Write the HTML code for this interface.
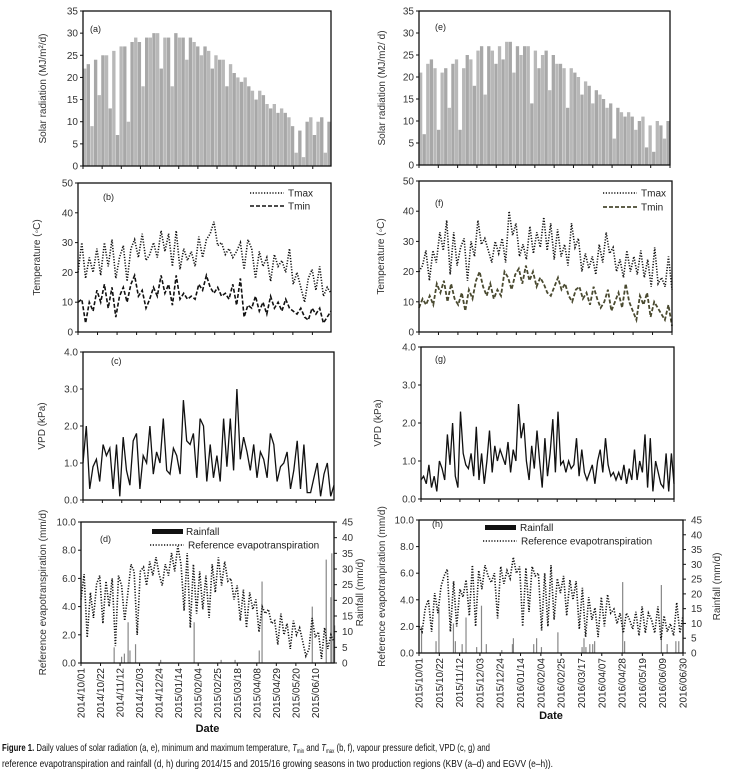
<!DOCTYPE html>
<html><head><meta charset="utf-8"><style>
html,body{margin:0;padding:0;background:#fff;}
svg{display:block;font-family:"Liberation Sans",sans-serif;}
</style></head><body>
<svg id="chart" width="742" height="778" viewBox="0 0 742 778" xmlns="http://www.w3.org/2000/svg">
<text x="2" y="751" font-size="10.5" fill="#111" textLength="488" lengthAdjust="spacingAndGlyphs"><tspan font-weight="bold">Figure 1.</tspan> Daily values of solar radiation (a, e), minimum and maximum temperature, <tspan font-style="italic">T</tspan><tspan font-size="6" dy="2">min</tspan><tspan dy="-2"> and </tspan><tspan font-style="italic">T</tspan><tspan font-size="6" dy="2">max</tspan><tspan dy="-2"> (b, f), vapour pressure deficit, VPD (c, g) and</tspan></text>
<text x="2" y="767" font-size="10.5" fill="#111" textLength="551" lengthAdjust="spacingAndGlyphs">reference evapotranspiration and rainfall (d, h) during 2014/15 and 2015/16 growing seasons in two production regions (KBV (a–d) and EGVV (e–h)).</text>
</svg>
<script>
// ---- data ----
const datesLeft = ["2014/10/01","2014/10/22","2014/11/12","2014/12/03","2014/12/24","2015/01/14","2015/02/04","2015/02/25","2015/03/18","2015/04/08","2015/04/29","2015/05/20","2015/06/10"];
const datesRight = ["2015/10/01","2015/10/22","2015/11/12","2015/12/03","2015/12/24","2016/01/14","2016/02/04","2016/02/25","2016/03/17","2016/04/07","2016/04/28","2016/05/19","2016/06/09","2016/06/30"];
const solarA = [22,23,9,24,16,25,25,13,26,7,27,27,10,28,29,28,18,29,29,30,30,22,29,29,18,30,29,29,24,29,28,27,25,27,26,22,25,24,24,18,23,21,20,19,20,18,17,15,17,16,14,13,14,12,13,12,11,9,3,8,2,10,11,7,10,11,3,10];
const tmaxB = [20,30,18,25,20,28,19,30,22,31,18,25,29,17,28,31,25,33,24,26,30,25,34,27,33,22,34,21,28,24,27,22,32,25,31,33,37,29,30,26,28,25,27,30,21,31,28,18,27,22,25,17,26,22,24,20,28,16,20,15,10,18,21,14,22,12,15,13];
const tminB = [10,11,3,10,7,14,10,16,8,15,5,12,15,10,16,19,12,14,8,11,15,12,19,13,16,9,19,11,13,11,12,11,16,14,19,15,13,15,12,13,11,16,9,18,5,9,8,12,7,10,6,12,8,10,7,11,8,7,6,8,5,4,8,6,8,3,5,7];
const vpdC = [1.0,2.0,0.3,0.9,1.1,0.5,1.5,1.2,1.4,0.3,1.5,0.1,1.7,0.8,0.4,1.6,1.8,0.3,1.2,1.0,2.0,0.7,1.3,1.0,2.2,0.8,0.7,1.4,1.2,0.7,2.7,1.6,1.5,1.8,0.6,2.2,2.0,0.5,1.5,0.6,1.2,0.5,2.2,0.9,2.2,0.8,3.0,1.1,1.7,1.3,0.8,1.5,0.6,1.3,1.1,0.6,1.8,1.5,0.5,0.9,1.0,1.3,0.3,0.8,1.6,0.3,1.5,0.2,0.2,0.6,1.0,0.1,0.7,1.0,0.1,0.4];
const etoD = [4.5,6.3,1.8,5.0,3.2,5.6,6.2,2.8,5.8,4.0,6.0,1.2,6.2,5.5,3.0,5.0,7.0,6.5,2.0,6.5,6.8,5.5,7.2,6.2,7.5,6.3,5.5,7.0,6.2,7.8,6.5,8.3,7.0,3.7,7.8,2.5,7.0,3.5,6.5,3.8,6.2,3.2,7.0,5.0,7.5,5.5,7.2,5.8,6.0,4.5,5.5,3.0,5.2,2.5,5.0,3.8,4.5,2.2,4.0,3.5,3.8,2.8,3.0,1.3,3.5,2.0,2.8,1.0,3.0,2.0,2.5,1.5,0.5,1.0,3.2,1.8,2.2,0.3,2.5,1.0,2.0,1.5];
const rainDayD = [35,43,46,50,52,58,85,121,150,165,191,194,248,263,268,269,272];
const rainMmD = [5,2,3,13,4,6,1,13,1,1,4,26,18,33,21,35,12];
const solarE = [21,7,23,24,22,8,21,22,13,23,24,8,22,25,24,18,26,27,16,27,26,23,27,24,28,28,21,27,25,27,27,14,26,22,25,26,17,25,23,23,22,13,22,21,20,16,19,18,14,17,16,15,13,14,6,13,12,11,12,11,8,10,11,4,9,3,10,9,6,10];
const tmaxF = [20,22,27,17,27,23,33,27,37,19,33,22,28,31,17,30,25,37,29,31,27,23,30,26,31,23,40,32,36,25,29,24,35,26,33,28,38,27,36,24,34,25,29,22,36,28,31,20,26,21,25,19,29,23,33,26,28,20,24,18,27,20,25,19,27,18,24,15,28,16,18,15,25,14];
const tminF = [8,11,9,12,9,16,13,17,10,16,11,9,13,7,14,11,17,20,15,12,16,11,14,12,20,18,14,19,21,16,22,17,20,15,18,16,13,12,15,18,14,16,12,10,14,15,11,13,9,15,11,8,10,14,7,10,13,8,16,10,7,4,12,9,13,5,10,8,6,4,9,2];
const vpdG = [0.5,0.6,0.4,0.9,0.3,0.6,0.2,1.0,0.8,0.5,1.7,0.9,2.0,0.6,0.3,2.3,1.2,0.9,0.8,1.2,0.6,1.9,0.5,1.2,0.4,1.0,1.8,0.7,1.4,1.0,1.3,1.1,0.9,1.5,0.7,1.3,1.0,2.5,1.6,2.0,1.0,0.5,1.4,0.8,1.8,1.0,0.3,1.6,0.6,1.2,2.1,0.7,2.3,0.9,1.0,0.7,1.0,0.8,0.9,1.6,0.6,1.3,0.7,0.5,0.7,0.9,0.4,1.0,1.3,0.7,1.6,0.9,0.6,0.7,0.5,0.7,0.5,0.9,0.4,0.8,0.5,1.3,0.5,1.0,0.7,1.7,0.3,1.6,0.2,1.0,0.7,0.4,0.3,1.2,0.2,1.2,0.4];
const etoH = [2.0,1.6,3.4,4.0,1.6,4.5,3.0,5.0,5.8,6.3,1.6,5.4,2.0,4.8,4.2,5.5,2.8,6.6,2.0,6.2,4.8,6.6,5.8,5.3,6.0,2.6,6.5,5.2,6.2,5.6,7.2,6.0,6.5,2.0,6.4,3.1,6.5,5.8,6.0,1.7,6.0,2.0,6.6,2.5,5.6,4.5,5.8,2.8,5.5,4.0,5.4,1.8,4.9,1.2,4.2,2.5,3.4,1.2,4.2,2.0,4.4,3.0,3.3,2.2,3.0,1.5,3.0,2.5,1.8,3.1,1.3,3.5,1.5,3.0,2.5,1.5,3.5,1.0,2.8,1.6,2.2,1.3,3.8,1.5,2.8];
const rainDayH = [2,17,20,35,37,44,48,59,64,69,85,96,97,118,121,126,143,168,170,172,176,179,181,210,212,250,256,265,268];
const rainMmH = [9,4,15,10,4,3,12,2,16,3,1,3,5,3,5,2,7,2,5,2,3,3,4,24,4,23,3,4,4];

// ---- drawing ----
const NS = "http://www.w3.org/2000/svg";
const svg = document.getElementById('chart');
function el(tag, attrs, parent){
  const e = document.createElementNS(NS, tag);
  for (const k in attrs) e.setAttribute(k, attrs[k]);
  (parent || svg).appendChild(e);
  return e;
}
function txt(s, attrs, parent){ const t = el('text', attrs, parent); t.textContent = s; return t; }

function panel(p){
  const g = el('g', {});
  
  
  p.sx = d => p.x0 + d / p.days * (p.x1 - p.x0);
  p.sy = v => p.y1 - v / p.ymax * (p.y1 - p.y0);
  p.g = g;
  return p;
}
function frame(p){
  const r = el('rect', {x:p.x0, y:p.y0, width:p.x1-p.x0, height:p.y1-p.y0, fill:'none', stroke:'#111', 'stroke-width':1.3}, p.g);
  
  
  for (let v = 0; v <= p.ymax + 1e-9; v += p.step){
    const y = p.sy(v);
    const tk = el('line', {x1:p.x0-3, x2:p.x0, y1:y, y2:y, stroke:'#111', 'stroke-width':1}, p.g);
    
    
    const lb = txt(v.toFixed(p.dec), {x:p.x0-5, y:y+3.5, 'font-size':10, fill:'#333', 'text-anchor':'end'}, p.g);
    
    
  }
  for (let i = 0; i < p.nt; i++){
    const x = p.sx(i*21);
    const tk = el('line', {x1:x, x2:x, y1:p.y1, y2:p.y1+3, stroke:'#111', 'stroke-width':1}, p.g);
    
    
  }
  const yt = txt(p.ytitle, {x:0, y:0, 'font-size':10, fill:'#333', 'text-anchor':'middle', transform:`translate(${p.tx},${(p.y0+p.y1)/2}) rotate(-90)`}, p.g);
  
  
  const pl = txt(p.label, {x:p.lx, y:p.ly, 'font-size':9, fill:'#222'}, p.g);
  
  
}
function bars(p, vals){
  const n = vals.length, w = (p.x1 - p.x0) / n;
  vals.forEach((v, i) => {
    const y = p.sy(v);
    const b = el('rect', {x:p.x0 + i*w, y:y, width:w*0.92, height:p.y1-y, fill:(i%2?'#a8a8a8':'#b8b8b8')}, p.g);
    
    
  });
}
function line(p, vals, style, name){
  const n = vals.length;
  const pts = vals.map((v, i) => p.sx(i * p.days / (n - 1)).toFixed(1) + ',' + p.sy(v).toFixed(1)).join(' ');
  const l = el('polyline', Object.assign({points:pts, fill:'none'}, style), p.g);
  
  
}
function rain(p, days, mm, rmax){
  days.forEach((d, i) => {
    const x = p.sx(d), y = p.y1 - mm[i] / rmax * (p.y1 - p.y0);
    const b = el('rect', {x:x, y:y, width:1.2, height:p.y1-y, fill:'#888'}, p.g);
    
    
  });
}
function rainAxis(p, rmax, tx){
  for (let v = 0; v <= rmax; v += 5){
    const y = p.y1 - v / rmax * (p.y1 - p.y0);
    const tk = el('line', {x1:p.x1, x2:p.x1+3, y1:y, y2:y, stroke:'#111'}, p.g);
    
    
    const lb = txt(String(v), {x:p.x1+8, y:y+3.5, 'font-size':10, fill:'#333'}, p.g);
    
    
  }
  const t = txt('Rainfall (mm/d)', {x:0, y:0, 'font-size':10, fill:'#333', 'text-anchor':'middle', transform:`translate(${tx},${(p.y0+p.y1)/2}) rotate(-90)`}, p.g);
  
  
}
function dateLabels(p, labels, dateY){
  labels.forEach((s, i) => {
    const x = p.sx(i*21);
    const t = txt(s, {x:0, y:0, 'font-size':10, fill:'#222', 'text-anchor':'end', transform:`translate(${x+3.5},${p.y1+5}) rotate(-90)`}, p.g);
    
    
  });
  const d = txt('Date', {x:(p.x0+p.x1)/2, y:dateY, 'font-size':11, 'font-weight':'bold', fill:'#111', 'text-anchor':'middle'}, p.g);
  
  
}
function legendLine(p, x, y, style, label, name){
  const l = el('line', Object.assign({x1:x, x2:x+34, y1:y, y2:y}, style), p.g);
  
  
  const t = txt(label, {x:x+38, y:y+3.5, 'font-size':10, fill:'#222'}, p.g);
  
  
}

const dotted = {stroke:'#111', 'stroke-width':1.6, 'stroke-dasharray':'1.2,1.6'};
const dashedK = {stroke:'#111', 'stroke-width':1.6, 'stroke-dasharray':'4,2'};
const dashedO = {stroke:'#4a4a30', 'stroke-width':1.8, 'stroke-dasharray':'4,2'};
const solid = {stroke:'#111', 'stroke-width':1.3};

// (a)
let a = panel({name:'panel-a-solar', x0:83, x1:331, y0:11, y1:166, ymax:35, step:5, dec:0, days:272, nt:13, ytitle:'Solar radiation (MJ/m²/d)', tx:46, label:'(a)', lx:90, ly:32});
bars(a, solarA); frame(a);
// (b)
let b = panel({name:'panel-b-temperature', x0:78, x1:331, y0:183, y1:332, ymax:50, step:10, dec:0, days:272, nt:13, ytitle:'Temperature (◦C)', tx:40, label:'(b)', lx:103, ly:200});
line(b, tmaxB, dotted, 'tmax-line'); line(b, tminB, dashedK, 'tmin-line'); frame(b);
legendLine(b, 250, 193, dotted, 'Tmax', 'legend-tmax');
legendLine(b, 250, 206, dashedK, 'Tmin', 'legend-tmin');
// (c)
let c = panel({name:'panel-c-vpd', x0:83, x1:334, y0:352, y1:500, ymax:4, step:1, dec:1, days:272, nt:13, ytitle:'VPD (kPa)', tx:45, label:'(c)', lx:111, ly:364});
line(c, vpdC, solid, 'vpd-line'); frame(c);
// (d)
let d = panel({name:'panel-d-eto-rain', x0:81, x1:334, y0:522, y1:663, ymax:10, step:2, dec:1, days:272, nt:13, ytitle:'Reference evapotranspiration (mm/d)', tx:46, label:'(d)', lx:100, ly:542});
rain(d, rainDayD, rainMmD, 45); line(d, etoD, dotted, 'eto-line'); frame(d); rainAxis(d, 45, 363);
dateLabels(d, datesLeft, 732);
let rb = el('rect', {x:152, y:529, width:31, height:5, fill:'#111'}, d.g);


let rt = txt('Rainfall', {x:186, y:535, 'font-size':10, fill:'#222'}, d.g);


legendLine(d, 150, 545, dotted, 'Reference evapotranspiration', 'legend-eto');

// (e)
let e = panel({name:'panel-e-solar', x0:419, x1:670, y0:11, y1:165, ymax:35, step:5, dec:0, days:273, nt:14, ytitle:'Solar radiation (MJ/m2/ d)', tx:385, label:'(e)', lx:435, ly:30});
bars(e, solarE); frame(e);
// (f)
let f = panel({name:'panel-f-temperature', x0:419, x1:672, y0:181, y1:332, ymax:50, step:10, dec:0, days:273, nt:14, ytitle:'Temperature (◦C)', tx:384, label:'(f)', lx:435, ly:206});
line(f, tmaxF, dotted, 'tmax-line'); line(f, tminF, dashedO, 'tmin-line'); frame(f);
legendLine(f, 603, 193, dotted, 'Tmax', 'legend-tmax');
legendLine(f, 603, 207, dashedO, 'Tmin', 'legend-tmin');
// (g)
let gg = panel({name:'panel-g-vpd', x0:421, x1:674, y0:347, y1:499, ymax:4, step:1, dec:1, days:273, nt:14, ytitle:'VPD (kPa)', tx:381, label:'(g)', lx:435, ly:362});
line(gg, vpdG, solid, 'vpd-line'); frame(gg);
// (h)
let h = panel({name:'panel-h-eto-rain', x0:419, x1:683, y0:520, y1:653, ymax:10, step:2, dec:1, days:273, nt:14, ytitle:'Reference evapotranpiration (mm/d)', tx:385, label:'(h)', lx:432, ly:527});
rain(h, rainDayH, rainMmH, 45); line(h, etoH, dotted, 'eto-line'); frame(h); rainAxis(h, 45, 720);
dateLabels(h, datesRight, 719);
let rb2 = el('rect', {x:485, y:525, width:31, height:5, fill:'#111'}, h.g);


let rt2 = txt('Rainfall', {x:520, y:531, 'font-size':10, fill:'#222'}, h.g);


legendLine(h, 483, 541, dotted, 'Reference evapotranspiration', 'legend-eto');
</script>
</body></html>
